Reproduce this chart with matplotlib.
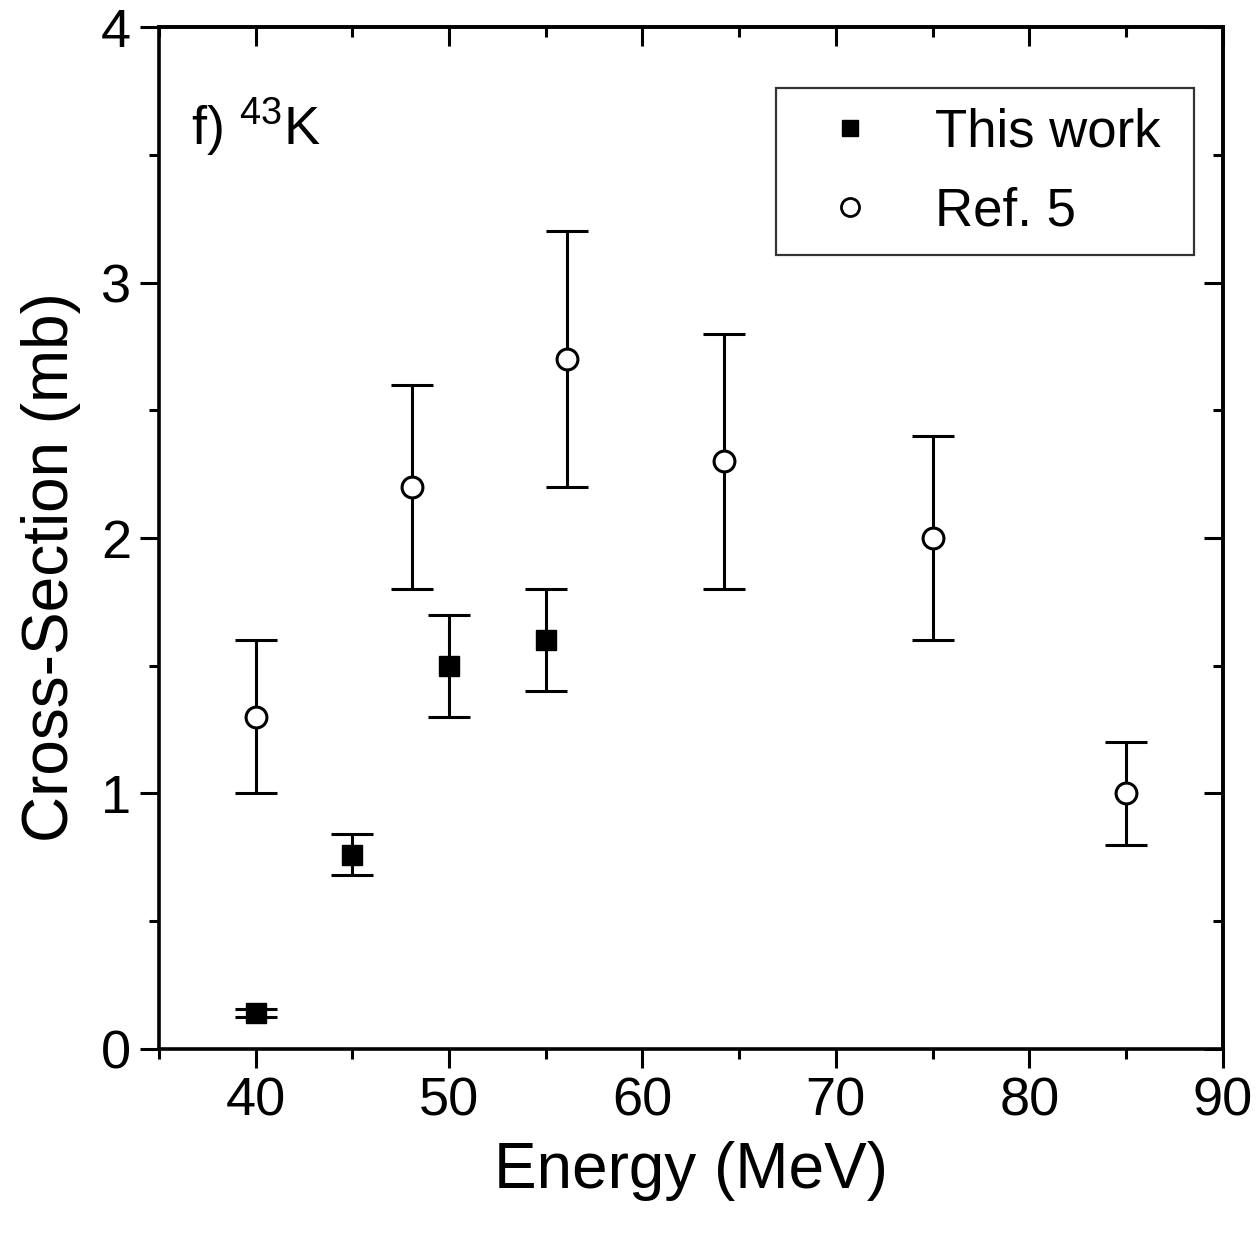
import matplotlib
matplotlib.use("Agg")
import matplotlib.pyplot as plt
from matplotlib.ticker import MultipleLocator
from matplotlib.lines import Line2D

plt.rcParams['font.family'] = ['Liberation Sans', 'DejaVu Sans']

# This work
tw_energy = [40, 45, 50, 55]
tw_xs = [0.14, 0.76, 1.50, 1.60]
tw_err = [0.015, 0.08, 0.20, 0.20]

# Ref. 5
ref_energy = [40, 48.1, 56.1, 64.2, 75, 85]
ref_xs = [1.30, 2.20, 2.70, 2.30, 2.00, 1.00]
ref_err = [0.30, 0.40, 0.50, 0.50, 0.40, 0.20]

fig = plt.figure(figsize=(12.56, 12.34), dpi=100)
ax = fig.add_axes([0.1265, 0.150, 0.847, 0.828])

lw = 2.2
ax.errorbar(ref_energy, ref_xs, yerr=ref_err, fmt='o', mfc='white', mec='black',
            mew=2.2, ms=15, ecolor='black', elinewidth=lw, capsize=15, capthick=lw,
            color='black', zorder=3)
ax.errorbar(tw_energy, tw_xs, yerr=tw_err, fmt='s', mfc='black', mec='black',
            ms=14.5, ecolor='black', elinewidth=lw, capsize=15, capthick=lw,
            color='black', zorder=4)

ax.set_xlim(35, 90)
ax.set_ylim(0, 4)
ax.xaxis.set_major_locator(MultipleLocator(10))
ax.xaxis.set_minor_locator(MultipleLocator(5))
ax.yaxis.set_major_locator(MultipleLocator(1))
ax.yaxis.set_minor_locator(MultipleLocator(0.5))

for s in ax.spines.values():
    s.set_linewidth(2.6)

ax.tick_params(axis='both', which='major', direction='out', length=14, width=2.2,
               labelsize=39, pad=6)
ax.tick_params(axis='both', which='minor', direction='out', length=7, width=2.2)
# top and right inward ticks
axt = ax.secondary_xaxis('top')
axt.xaxis.set_major_locator(MultipleLocator(10))
axt.xaxis.set_minor_locator(MultipleLocator(5))
axt.tick_params(axis='x', which='major', direction='in', length=14, width=2.2, labeltop=False)
axt.tick_params(axis='x', which='minor', direction='in', length=7, width=2.2)
axt.spines['top'].set_linewidth(2.6)
axr = ax.secondary_yaxis('right')
axr.yaxis.set_major_locator(MultipleLocator(1))
axr.yaxis.set_minor_locator(MultipleLocator(0.5))
axr.tick_params(axis='y', which='major', direction='in', length=14, width=2.2, labelright=False)
axr.tick_params(axis='y', which='minor', direction='in', length=7, width=2.2)
axr.spines['right'].set_linewidth(2.6)

ax.set_xlabel('Energy (MeV)', fontsize=46, labelpad=10)
ax.set_ylabel('Cross-Section (mb)', fontsize=46)
ax.yaxis.set_label_coords(-0.073, 0.472)

ax.text(0.030, 0.885, r'f) $^{\mathregular{43}}$K', transform=ax.transAxes, fontsize=39,
        ha='left', va='baseline')

h_tw = Line2D([], [], ls='none', marker='s', ms=12, mfc='black', mec='black')
h_ref = Line2D([], [], ls='none', marker='o', ms=13, mfc='white', mec='black', mew=2.0)
leg = ax.legend([h_tw, h_ref], ['This work', 'Ref. 5'], loc='upper left',
                bbox_to_anchor=(0.580, 0.782, 0.393, 0.158), mode='expand',
                fontsize=38, frameon=True, fancybox=False, edgecolor='black',
                borderpad=0.36, handlelength=2.1, handletextpad=0.56, labelspacing=0.55,
                borderaxespad=0)
leg.get_frame().set_linewidth(1.6)

fig.savefig('out.png', dpi=100)
